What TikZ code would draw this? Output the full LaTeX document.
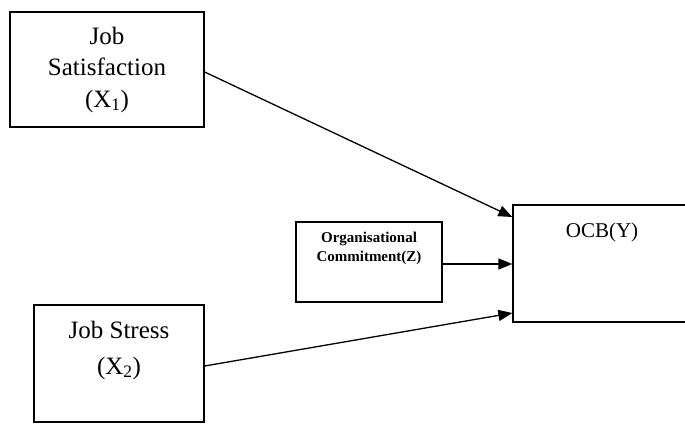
\documentclass[tikz,border=0pt]{standalone}
\usepackage{fontspec}
\setmainfont{Liberation Serif}
\usetikzlibrary{arrows.meta,positioning}

\begin{document}
\begin{tikzpicture}[
    x=1pt, y=-1pt,
    box/.style={rectangle, draw, line width=1.3pt, inner sep=0pt},
    varbig/.style={font=\fontsize{25}{31.5}\selectfont, align=center, inner sep=0pt},
    varsmall/.style={font=\fontsize{15}{19}\selectfont\bfseries, align=center, inner sep=0pt},
    link/.style={-{Triangle[length=14pt,width=11pt]}, line width=1.3pt}
]
\useasboundingbox (0,0) rectangle (685,423);

% ============ boxes ============
\node[box, minimum width=194pt, minimum height=115pt, varbig] (jobsat) at (107,69.5)
    {Job\\Satisfaction\\(X\textsubscript{1})};
\node[box, minimum width=170pt, minimum height=117pt] (jobstress) at (119,363.5) {};
\node[box, minimum width=146pt, minimum height=80pt] (commit) at (369,262) {};
\node[box, minimum width=177pt, minimum height=117pt] (ocb) at (601.5,263.5) {};

% ============ labels ============
\node[varbig, font=\fontsize{25}{36}\selectfont] (jobstress-txt) at (119,350) {Job Stress\\(X\textsubscript{2})};
\node[varsmall] (commit-txt) at (369,248.5) {Organisational\\Commitment(Z)};
\node[varbig, font=\fontsize{21}{26}\selectfont] (ocb-txt) at (602,232) {OCB(Y)};

% ============ paths ============
\draw[link] ([yshift=-2.5pt]jobsat.east) -- ([yshift=46.5pt]ocb.west);
\draw[link] ([yshift=-2pt]commit.east) -- ([yshift=-0.5pt]ocb.west);
\draw[link] ([yshift=-2.5pt]jobstress.east) -- ([yshift=-49.5pt]ocb.west);

\end{tikzpicture}
\end{document}
